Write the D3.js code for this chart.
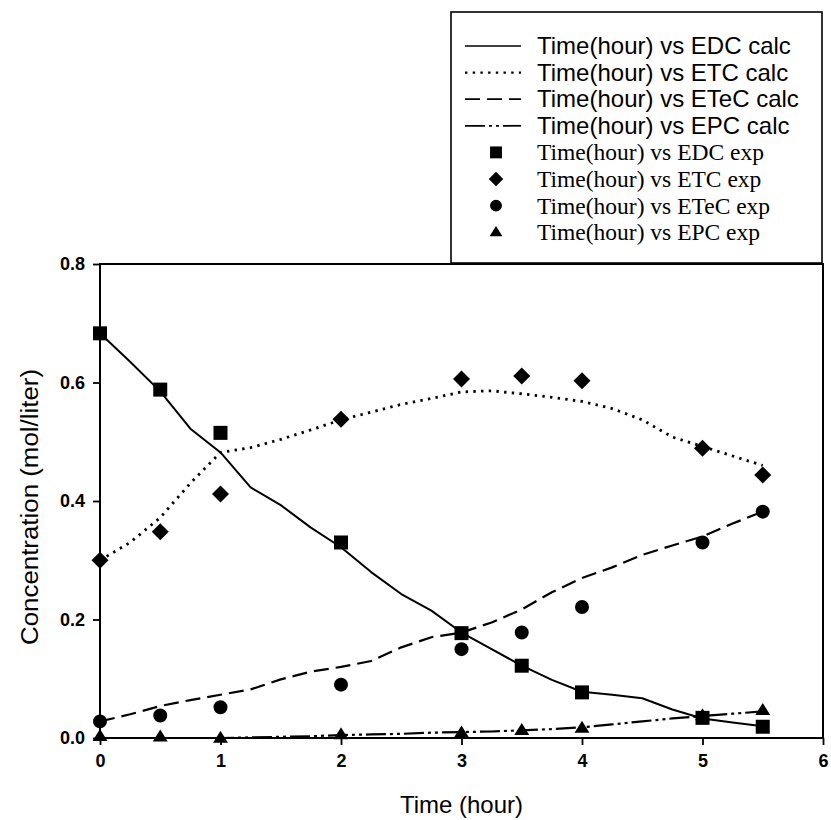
<!DOCTYPE html>
<html>
<head>
<meta charset="utf-8">
<script src="https://cdn.jsdelivr.net/npm/d3@7"></script>
<style>
  html, body { margin: 0; padding: 0; background: #fff; }
  svg { display: block; }
</style>
</head>
<body>
<svg id="chart" width="831" height="820"></svg>
<script>
// ---------------- DATA ----------------
const xTicks = [0, 1, 2, 3, 4, 5, 6];
const yTicks = [0.0, 0.2, 0.4, 0.6, 0.8];

// calculated curves (model), sampled every 0.25 h
const calcTime = [0, 0.25, 0.5, 0.75, 1.0, 1.25, 1.5, 1.75, 2.0, 2.25, 2.5, 2.75,
                  3.0, 3.25, 3.5, 3.75, 4.0, 4.25, 4.5, 4.75, 5.0, 5.25, 5.5];
const edcCalc  = [0.683, 0.635, 0.585, 0.522, 0.482, 0.423, 0.393, 0.355, 0.322, 0.280, 0.243, 0.215,
                  0.178, 0.150, 0.122, 0.098, 0.078, 0.073, 0.067, 0.048, 0.033, 0.026, 0.020];
const etcCalc  = [0.300, 0.330, 0.372, 0.430, 0.482, 0.490, 0.504, 0.520, 0.537, 0.550, 0.563, 0.573,
                  0.584, 0.586, 0.581, 0.575, 0.568, 0.556, 0.537, 0.508, 0.492, 0.476, 0.460];
const etecCalc = [0.028, 0.040, 0.054, 0.064, 0.073, 0.082, 0.099, 0.112, 0.120, 0.130, 0.153, 0.170,
                  0.178, 0.195, 0.217, 0.246, 0.270, 0.288, 0.309, 0.325, 0.340, 0.362, 0.382];
const epcCalc  = [0.000, 0.000, 0.000, 0.000, 0.000, 0.001, 0.002, 0.003, 0.005, 0.006, 0.007, 0.009,
                  0.010, 0.011, 0.013, 0.015, 0.018, 0.023, 0.028, 0.033, 0.037, 0.041, 0.045];

// experimental points
const expTime = [0, 0.5, 1, 2, 3, 3.5, 4, 5, 5.5];
const edcExp  = [0.683, 0.588, 0.515, 0.330, 0.177, 0.122, 0.077, 0.034, 0.019];
const etcExp  = [0.300, 0.348, 0.412, 0.538, 0.606, 0.611, 0.603, 0.489, 0.444];
const etecExp = [0.028, 0.038, 0.052, 0.090, 0.150, 0.178, 0.221, 0.330, 0.382];
const epcExp  = [0.003, 0.002, 0.000, 0.006, 0.009, 0.013, 0.017, 0.038, 0.047];

const legendLabels = [
  "Time(hour) vs EDC calc", "Time(hour) vs ETC calc", "Time(hour) vs ETeC calc", "Time(hour) vs EPC calc",
  "Time(hour) vs EDC exp", "Time(hour) vs ETC exp", "Time(hour) vs ETeC exp", "Time(hour) vs EPC exp"
];
const xTitle = "Time (hour)";
const yTitle = "Concentration (mol/liter)";

// ---------------- LAYOUT ----------------
const svg = d3.select("#chart");
const pL = 100, pR = 823, pT = 264, pB = 738;
const x = d3.scaleLinear().domain([0, 6]).range([pL, pR]);
const y = d3.scaleLinear().domain([0, 0.8]).range([pB, pT]);

const SANS = "'Liberation Sans', Arial, Helvetica, sans-serif";
const SERIF = "'Liberation Serif', 'Times New Roman', serif";

const lineStyles = [
  { dash: null, width: 2 },
  { dash: "2.4,5.3", width: 2.8 },
  { dash: "15,7", width: 2.2 },
  { dash: "20,4,3,4,3,4", width: 2.2 }
];

// ---------------- AXES ----------------
const xAxis = d3.axisBottom(x).tickValues(xTicks).tickFormat(d3.format("d"))
  .tickSize(7).tickSizeOuter(0).tickPadding(9);
const yAxis = d3.axisLeft(y).tickValues(yTicks).tickFormat(d3.format(".1f"))
  .tickSize(7).tickSizeOuter(0).tickPadding(8);

const gx = svg.append("g").attr("transform", `translate(0,${pB})`).call(xAxis);
const gy = svg.append("g").attr("transform", `translate(${pL},0)`).call(yAxis);
[gx, gy].forEach(g => {
  g.select(".domain").remove();
  g.selectAll(".tick line").attr("stroke", "#000").attr("stroke-width", 1.8);
  g.selectAll(".tick text").attr("fill", "#000")
    .style("font-family", SANS).style("font-size", "18px").style("font-weight", "bold");
});

// frame
svg.append("rect").attr("x", pL).attr("y", pT)
  .attr("width", pR - pL).attr("height", pB - pT)
  .attr("fill", "none").attr("stroke", "#000").attr("stroke-width", 2);

// axis titles
svg.append("text").attr("x", (pL + pR) / 2).attr("y", 813)
  .attr("text-anchor", "middle").attr("fill", "#000")
  .style("font-family", SANS).style("font-size", "24px")
  .text(xTitle);
svg.append("text")
  .attr("transform", `translate(38,${(pT + pB) / 2 + 6}) rotate(-90)`)
  .attr("text-anchor", "middle").attr("fill", "#000")
  .style("font-family", SANS).style("font-size", "23px")
  .attr("textLength", 276).attr("lengthAdjust", "spacingAndGlyphs")
  .text(yTitle);

// ---------------- CALC LINES ----------------
const calcSeries = [edcCalc, etcCalc, etecCalc, epcCalc];
const line = d3.line().x(d => x(d[0])).y(d => y(d[1]));
calcSeries.forEach((vals, i) => {
  const st = lineStyles[i];
  svg.append("path")
    .datum(calcTime.map((t, j) => [t, vals[j]]))
    .attr("d", line)
    .attr("fill", "none").attr("stroke", "#000")
    .attr("stroke-width", st.width)
    .attr("stroke-dasharray", st.dash)
    .attr("stroke-linejoin", "round");
});

// ---------------- MARKERS ----------------
function markerPath(type, cx, cy) {
  if (type === 0) { const s = 7; return `M${cx - s},${cy - s}h${2 * s}v${2 * s}h${-2 * s}Z`; }
  if (type === 1) { const s = 8.5; return `M${cx},${cy - s}L${cx + s},${cy}L${cx},${cy + s}L${cx - s},${cy}Z`; }
  if (type === 2) { const r = 7; return `M${cx - r},${cy}a${r},${r} 0 1,0 ${2 * r},0a${r},${r} 0 1,0 ${-2 * r},0Z`; }
  const w = 7.5, h = 12;
  return `M${cx},${cy - h * 0.6}L${cx + w},${cy + h * 0.4}L${cx - w},${cy + h * 0.4}Z`;
}
const expSeries = [edcExp, etcExp, etecExp, epcExp];
expSeries.forEach((vals, i) => {
  svg.append("g").selectAll("path")
    .data(expTime.map((t, j) => [t, vals[j]]))
    .join("path")
    .attr("d", d => markerPath(i, x(d[0]), y(d[1])))
    .attr("fill", "#000");
});

// ---------------- LEGEND ----------------
const lg = svg.append("g");
lg.append("rect").attr("x", 451).attr("y", 12).attr("width", 371).attr("height", 251)
  .attr("fill", "#fff").attr("stroke", "#000").attr("stroke-width", 1.6);
legendLabels.forEach((lab, i) => {
  const cy = 46 + i * 26.6;
  if (i < 4) {
    const st = lineStyles[i];
    lg.append("line").attr("x1", 465).attr("x2", 521).attr("y1", cy).attr("y2", cy)
      .attr("stroke", "#000").attr("stroke-width", st.width * 0.8)
      .attr("stroke-dasharray", st.dash);
  } else {
    lg.append("path").attr("d", markerPath(i - 4, 496, cy)).attr("fill", "#000")
      .attr("transform", `translate(496,${cy}) scale(0.85) translate(-496,${-cy})`);
  }
  lg.append("text").attr("x", 537).attr("y", cy + 8).attr("fill", "#000")
    .style("font-family", i < 4 ? SANS : SERIF)
    .style("font-size", i < 4 ? "24px" : "23.5px")
    .text(lab);
});
</script>
</body>
</html>
